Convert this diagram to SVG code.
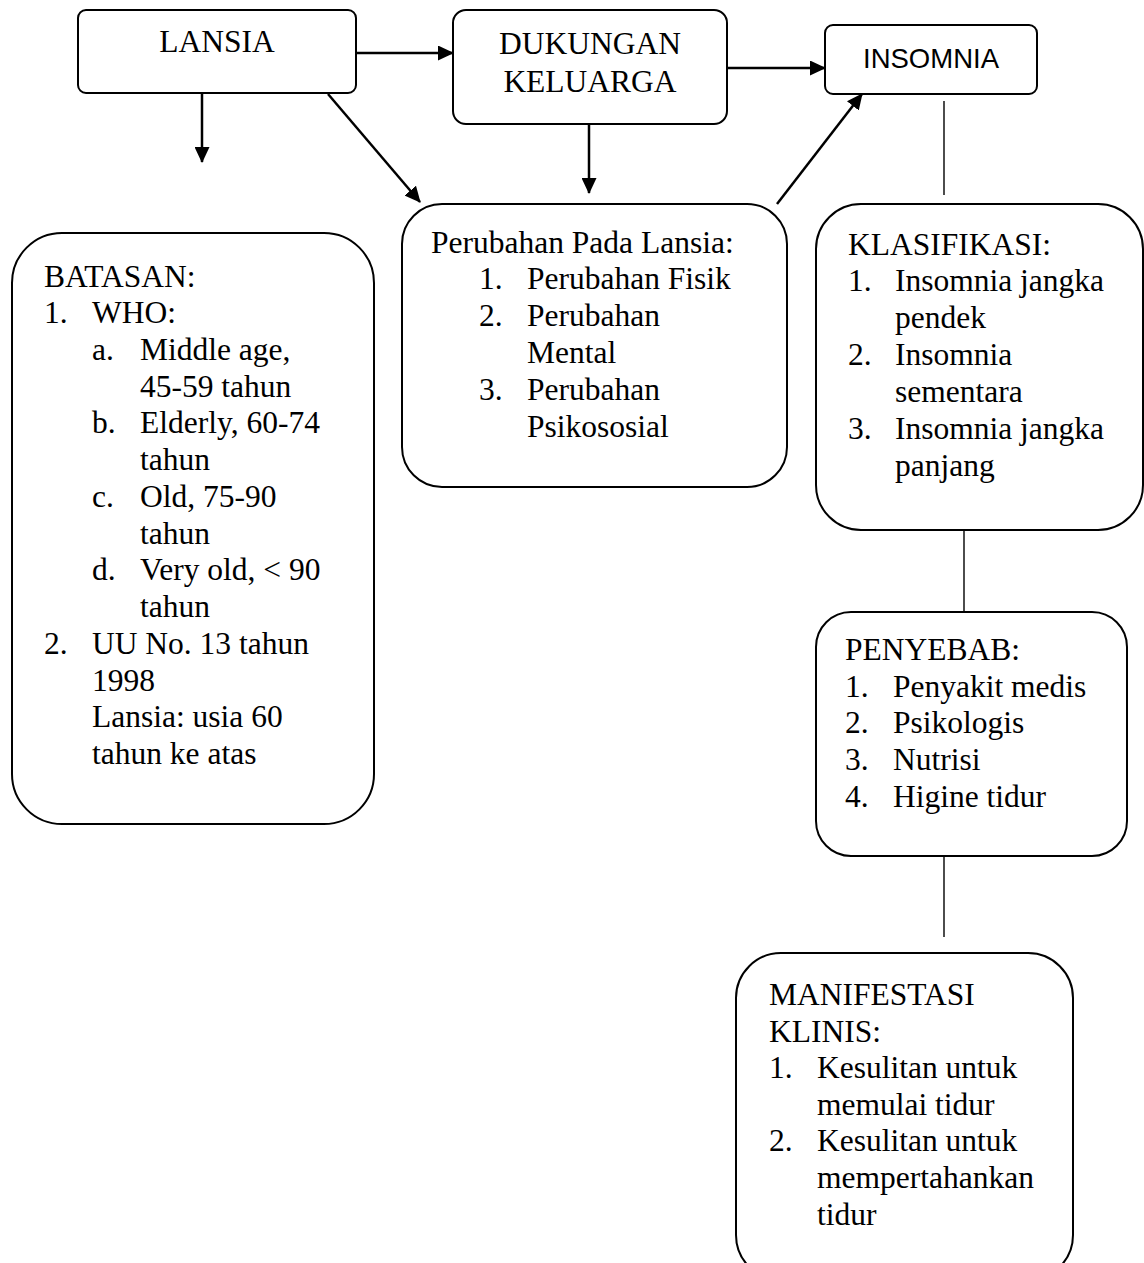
<svg xmlns="http://www.w3.org/2000/svg" width="1144" height="1263" viewBox="0 0 1144 1263">
<style>
.box{fill:#fff;stroke:#000;stroke-width:2}
.t{font-family:"Liberation Serif","Times New Roman",serif;font-size:31.5px;fill:#000}
.s{font-family:"Liberation Sans",Arial,sans-serif;font-size:27.5px;fill:#000}
.arr{stroke:#000;stroke-width:2.5;fill:none;marker-end:url(#ah)}
.ln{stroke:#000;stroke-width:1.4;fill:none}
</style>
<defs>
<marker id="ah" markerUnits="userSpaceOnUse" markerWidth="16" markerHeight="15" refX="15" refY="7.5" orient="auto">
<path d="M0,0 L16,7.5 L0,15 z" fill="#000"/>
</marker>
</defs>
<rect width="1144" height="1263" fill="#fff"/>
<g id="connectors">
<line class="arr" x1="356" y1="53" x2="453" y2="53"/>
<line class="arr" x1="202" y1="93" x2="202" y2="162"/>
<line class="arr" x1="328" y1="94" x2="420" y2="202"/>
<line class="arr" x1="589" y1="124" x2="589" y2="193"/>
<line class="arr" x1="727" y1="68" x2="825" y2="68"/>
<line class="arr" x1="777" y1="204" x2="862" y2="94"/>
<line class="ln" x1="944" y1="101" x2="944" y2="195"/>
<line class="ln" x1="964" y1="530" x2="964" y2="612"/>
<line class="ln" x1="944" y1="856" x2="944" y2="937"/>
</g>
<g id="lansia">
<rect class="box" x="78" y="10" width="278" height="83" rx="8"/>
<text class="t" x="217" y="52" text-anchor="middle">LANSIA</text>
</g>
<g id="dukungan">
<rect class="box" x="453" y="10" width="274" height="114" rx="13"/>
<text class="t" x="590" y="54" text-anchor="middle">DUKUNGAN</text>
<text class="t" x="590" y="92" text-anchor="middle">KELUARGA</text>
</g>
<g id="insomnia">
<rect class="box" x="825" y="25" width="212" height="69" rx="8"/>
<text class="s" x="931" y="68" text-anchor="middle">INSOMNIA</text>
</g>
<g id="batasan">
<rect class="box" x="12" y="233" width="362" height="591" rx="50"/>
<text class="t" x="44" y="287">BATASAN:</text>
<text class="t" x="44" y="323">1.</text><text class="t" x="92" y="323">WHO:</text>
<text class="t" x="92" y="360">a.</text><text class="t" x="140" y="360">Middle age,</text>
<text class="t" x="140" y="397">45-59 tahun</text>
<text class="t" x="92" y="433">b.</text><text class="t" x="140" y="433">Elderly, 60-74</text>
<text class="t" x="140" y="470">tahun</text>
<text class="t" x="92" y="507">c.</text><text class="t" x="140" y="507">Old, 75-90</text>
<text class="t" x="140" y="544">tahun</text>
<text class="t" x="92" y="580">d.</text><text class="t" x="140" y="580">Very old, &lt; 90</text>
<text class="t" x="140" y="617">tahun</text>
<text class="t" x="44" y="654">2.</text><text class="t" x="92" y="654">UU No. 13 tahun</text>
<text class="t" x="92" y="691">1998</text>
<text class="t" x="92" y="727">Lansia: usia 60</text>
<text class="t" x="92" y="764">tahun ke atas</text>
</g>
<g id="perubahan">
<rect class="box" x="402" y="204" width="385" height="283" rx="40"/>
<text class="t" x="431" y="253">Perubahan Pada Lansia:</text>
<text class="t" x="479" y="289">1.</text><text class="t" x="527" y="289">Perubahan Fisik</text>
<text class="t" x="479" y="326">2.</text><text class="t" x="527" y="326">Perubahan</text>
<text class="t" x="527" y="363">Mental</text>
<text class="t" x="479" y="400">3.</text><text class="t" x="527" y="400">Perubahan</text>
<text class="t" x="527" y="437">Psikososial</text>
</g>
<g id="klasifikasi">
<rect class="box" x="816" y="204" width="327" height="326" rx="45"/>
<text class="t" x="848" y="255">KLASIFIKASI:</text>
<text class="t" x="848" y="291">1.</text><text class="t" x="895" y="291">Insomnia jangka</text>
<text class="t" x="895" y="328">pendek</text>
<text class="t" x="848" y="365">2.</text><text class="t" x="895" y="365">Insomnia</text>
<text class="t" x="895" y="402">sementara</text>
<text class="t" x="848" y="439">3.</text><text class="t" x="895" y="439">Insomnia jangka</text>
<text class="t" x="895" y="476">panjang</text>
</g>
<g id="penyebab">
<rect class="box" x="816" y="612" width="311" height="244" rx="35"/>
<text class="t" x="845" y="660">PENYEBAB:</text>
<text class="t" x="845" y="697">1.</text><text class="t" x="893" y="697">Penyakit medis</text>
<text class="t" x="845" y="733">2.</text><text class="t" x="893" y="733">Psikologis</text>
<text class="t" x="845" y="770">3.</text><text class="t" x="893" y="770">Nutrisi</text>
<text class="t" x="845" y="807">4.</text><text class="t" x="893" y="807">Higine tidur</text>
</g>
<g id="manifestasi">
<rect class="box" x="736" y="953" width="337" height="327" rx="45"/>
<text class="t" x="769" y="1005">MANIFESTASI</text>
<text class="t" x="769" y="1042">KLINIS:</text>
<text class="t" x="769" y="1078">1.</text><text class="t" x="817" y="1078">Kesulitan untuk</text>
<text class="t" x="817" y="1115">memulai tidur</text>
<text class="t" x="769" y="1151">2.</text><text class="t" x="817" y="1151">Kesulitan untuk</text>
<text class="t" x="817" y="1188">mempertahankan</text>
<text class="t" x="817" y="1225">tidur</text>
</g>
</svg>
